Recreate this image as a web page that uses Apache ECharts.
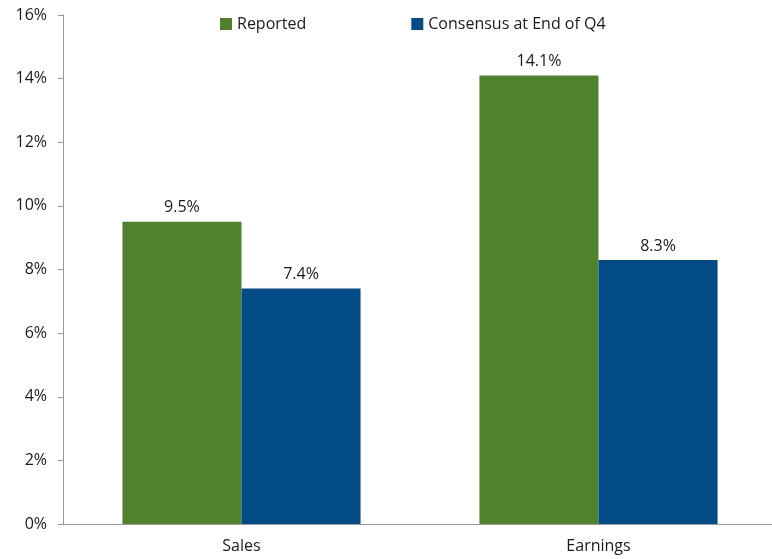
<!DOCTYPE html>
<html>
<head>
<meta charset="utf-8">
<script src="https://cdn.jsdelivr.net/npm/echarts@6/dist/echarts.min.js"></script>
<style>
  html, body { margin: 0; padding: 0; background: #fff; overflow: hidden; }
  #chart { width: 780px; height: 559px; }
</style>
</head>
<body>
<div id="chart"></div>
<script>
const categories = ['Sales', 'Earnings'];
const reported = [9.5, 14.1];
const consensus = [7.4, 8.3];
const seriesNames = ['Reported', 'Consensus at End of Q4'];

const font = '"Open Sans", sans-serif';
const chart = echarts.init(document.getElementById('chart'));

const label = {
  show: true,
  position: 'top',
  distance: 6,
  fontFamily: font,
  fontSize: 16,
  color: '#1a1a1a',
  formatter: p => p.value.toFixed(1) + '%'
};

chart.setOption({
  animation: false,
  textStyle: { fontFamily: font },
  legend: {
    top: 11,
    left: 215,
    itemWidth: 12,
    itemHeight: 12,
    itemGap: 105,
    icon: 'rect',
    textStyle: { fontSize: 16, color: '#1a1a1a', fontFamily: font },
    data: seriesNames
  },
  // plot runs past the right edge of the 772px window, as in the original
  grid: { left: 63, right: 3, top: 15, bottom: 35 },
  xAxis: {
    type: 'category',
    data: categories,
    axisLine: { lineStyle: { color: '#999' } },
    axisTick: { show: false },
    axisLabel: { fontSize: 16, color: '#1a1a1a', margin: 14, fontFamily: font }
  },
  yAxis: {
    type: 'value',
    min: 0,
    max: 16,
    interval: 2,
    splitLine: { show: false },
    axisLine: { show: true, lineStyle: { color: '#999' } },
    axisTick: { show: true, length: 5, lineStyle: { color: '#999' } },
    axisLabel: { fontSize: 16, color: '#1a1a1a', margin: 16, formatter: '{value}%', fontFamily: font }
  },
  series: [
    {
      name: seriesNames[0],
      type: 'bar',
      data: reported,
      barGap: 0,
      barCategoryGap: '33.3%',
      itemStyle: { color: '#50812c' },
      label: label
    },
    {
      name: seriesNames[1],
      type: 'bar',
      data: consensus,
      itemStyle: { color: '#024b86' },
      label: label
    }
  ]
});
</script>
</body>
</html>
